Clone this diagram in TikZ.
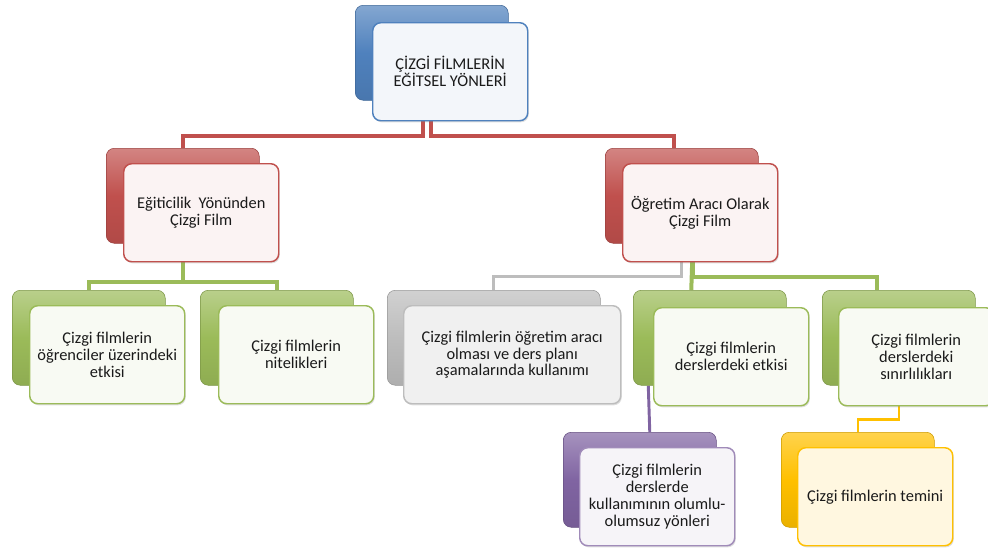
\documentclass[tikz,border=0pt]{standalone}
\usepackage{fontspec}
\setmainfont{Carlito}
\usetikzlibrary{calc,shadows}
\pgfdeclarelayer{bg}
\pgfsetlayers{bg,main}
\definecolor{cblue}{HTML}{4F81BD}
\definecolor{cred}{HTML}{C0504D}
\definecolor{cgreen}{HTML}{9BBB59}
\definecolor{cgray}{HTML}{BDBDBD}
\definecolor{cpurple}{HTML}{8064A2}
\definecolor{cyellow}{HTML}{FFC000}
\definecolor{ctext}{HTML}{1A1A1A}
\tikzset{
  backbox/.style={draw=#1!80!black, line width=0.4pt, top color=#1!70!white, bottom color=#1!92!black,
    middle color=#1, rounded corners=6pt, anchor=north west,
    minimum width=114.75pt, minimum height=71.25pt, inner sep=0pt},
  frontbox/.style={draw=#1, line width=1.1pt, fill=#1!7!white, rounded corners=6pt,
    anchor=north west, minimum width=116.25pt, minimum height=73.5pt, inner sep=2pt,
    align=center, text=ctext, font=\fontsize{12.3}{12.6}\selectfont,
    drop shadow={opacity=0.25, shadow xshift=0.8pt, shadow yshift=-1.2pt}},
  link/.style={draw=#1, line width=3pt},
}
\begin{document}
\begin{tikzpicture}[x=0.75pt,y=-0.75pt]
\useasboundingbox (0,0) rectangle (988,550);
% top
\node[backbox=cblue] (topb) at (355,5) {};
\node[frontbox=cblue] (top) at (372,22) {ÇİZGİ FİLMLERİN\\EĞİTSEL YÖNLERİ};
% level 1
\node[backbox=cred] (egb) at (106,148) {};
\node[frontbox=cred] (eg) at (123,163) {Eğiticilik~ Yönünden\\Çizgi Film};
\node[backbox=cred] (oab) at (605,148) {};
\node[frontbox=cred] (oa) at (622,163) {Öğretim Aracı Olarak\\Çizgi Film};
% level 2
\node[backbox=cgreen] (g1b) at (12,290) {};
\node[frontbox=cgreen] (g1) at (29,305) {Çizgi filmlerin\\öğrenciler üzerindeki\\etkisi};
\node[backbox=cgreen] (g2b) at (200,290) {};
\node[frontbox=cgreen] (g2) at (218,305) {Çizgi filmlerin\\nitelikleri};
\node[backbox=cgray, minimum width=159.75pt] (grb) at (387,290) {};
\node[frontbox=cgray, fill=cgray!22!white, minimum width=162.75pt] (gr) at (403,305) {Çizgi filmlerin öğretim aracı\\olması ve ders planı\\aşamalarında kullanımı};
\node[backbox=cgreen] (g3b) at (633,290) {};
\node[frontbox=cgreen] (g3) at (653,307) {Çizgi filmlerin\\derslerdeki etkisi};
\node[backbox=cgreen] (g4b) at (822,290) {};
\node[frontbox=cgreen] (g4) at (838,307) {Çizgi filmlerin\\derslerdeki\\sınırlılıkları};
% level 3
\node[backbox=cpurple] (pb) at (563,432) {};
\node[frontbox=cpurple, draw=cpurple!75!white] (p) at (579,447) {Çizgi filmlerin\\derslerde\\kullanımının olumlu-\\olumsuz yönleri};
\node[backbox=cyellow] (yb) at (781,432) {};
\node[frontbox=cyellow, fill=cyellow!12!white] (yl) at (797,447) {Çizgi filmlerin temini};
% connectors
\begin{pgfonlayer}{bg}
\draw[link=cred] ($(topb.south)+(-9,0)$) -- ++(0,35) -| (egb.north);
\draw[link=cred] ($(topb.south)+(-1,0)$) -- ++(0,35) -| ($(oab.north)+(-8,0)$);
\draw[link=cgreen] (egb.south) -- ++(0,38) -| (g1b.north);
\draw[link=cgreen] (egb.south) -- ++(0,38) -| (g2b.north);
\draw[link=cgray, line width=2.5pt] (oab.south) -- ++(0,33) -| (grb.north);
\draw[link=cgreen] ($(oab.south)+(11,0)$) -- ($(g3b.north)+(-18.5,0)$);
\draw[link=cgreen] ($(oab.south)+(11,0)$) -- ++(0,33) -| ($(g4b.north)+(-21.5,0)$);
\draw[link=cpurple, line width=2.2pt] ($(g3b.south)+(-61.5,0)$) -- ($(pb.north)+(10,0)$);
\draw[link=cyellow, line width=1.6pt] (g4b.south) -- ++(0,34) -| (yb.north);
\end{pgfonlayer}
\end{tikzpicture}
\end{document}
